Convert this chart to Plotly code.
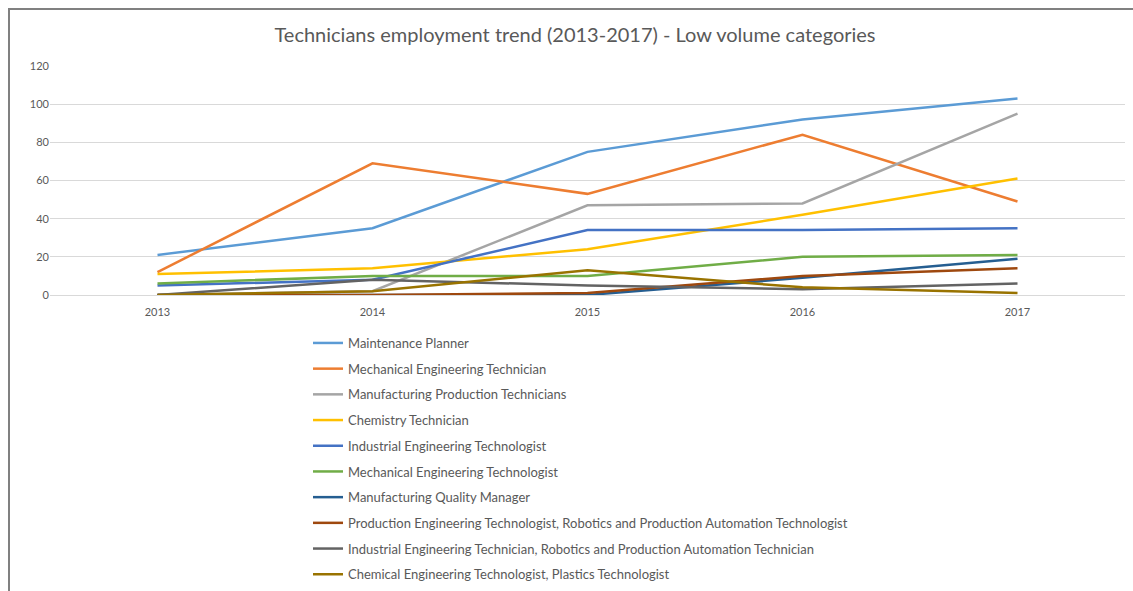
import plotly.graph_objects as go

years = ["2013", "2014", "2015", "2016", "2017"]

series_names = [
    "Maintenance Planner",
    "Mechanical Engineering Technician",
    "Manufacturing Production Technicians",
    "Chemistry Technician",
    "Industrial Engineering Technologist",
    "Mechanical Engineering Technologist",
    "Manufacturing Quality Manager",
    "Production Engineering Technologist, Robotics and Production Automation Technologist",
    "Industrial Engineering Technician, Robotics and Production Automation Technician",
    "Chemical Engineering Technologist, Plastics Technologist",
]

maintenance_planner = [21, 35, 75, 92, 103]
mech_eng_technician = [12, 69, 53, 84, 49]
manuf_production_tech = [0, 2, 47, 48, 95]
chemistry_technician = [11, 14, 24, 42, 61]
industrial_eng_technologist = [5, 8, 34, 34, 35]
mech_eng_technologist = [6, 10, 10, 20, 21]
manuf_quality_manager = [0, 0, 0, 9, 19]
production_eng_technologist = [0, 0, 1, 10, 14]
industrial_eng_technician = [0, 8, 5, 3, 6]
chemical_eng_technologist = [0, 2, 13, 4, 1]

series_values = [
    maintenance_planner, mech_eng_technician, manuf_production_tech,
    chemistry_technician, industrial_eng_technologist, mech_eng_technologist,
    manuf_quality_manager, production_eng_technologist,
    industrial_eng_technician, chemical_eng_technologist,
]

colors = ["#5B9BD5", "#ED7D31", "#A5A5A5", "#FFC000", "#4472C4",
          "#70AD47", "#255E91", "#9E480E", "#636363", "#997300"]

fig = go.Figure()
for i, (name, vals) in enumerate(zip(series_names, series_values)):
    fig.add_trace(go.Scatter(
        x=years, y=vals, name=name, mode="lines",
        line=dict(color=colors[i], width=2.5),
        legendgroup=f"g{i}",
    ))

# plot area in px: x 50..1125, y 66..295
L, R, T, B = 50, 1125, 66, 295
W, H = 1133, 591
def px_x(p):
    return (p - L) / (R - L)
def px_y(p):
    return (B - p) / (B - T)

fig.update_layout(
    width=W, height=H,
    margin=dict(l=L, r=W - R, t=T, b=H - B, autoexpand=False),
    paper_bgcolor="white", plot_bgcolor="white",
    font=dict(family="Lato, 'Open Sans', sans-serif", color="#595959", size=11),
    title=dict(
        text="Technicians employment trend (2013-2017) - Low volume categories",
        x=575 / W, xref="container", xanchor="center",
        y=1 - 35 / H, yanchor="middle",
        font=dict(size=20, color="#595959"),
    ),
    xaxis=dict(
        type="category", range=[-0.5, 4.5],
        showgrid=False, showline=False, zeroline=False,
        ticks="", ticklabelstandoff=9,
        tickfont=dict(size=11, color="#595959"),
    ),
    yaxis=dict(
        range=[0, 120], dtick=20, tick0=0,
        showgrid=True, gridcolor="#D9D9D9", gridwidth=1,
        zeroline=True, zerolinecolor="#D9D9D9", zerolinewidth=1,
        showline=False, ticks="",
        tickfont=dict(size=11, color="#595959"),
    ),
    showlegend=True,
    legend=dict(
        orientation="v",
        x=px_x(308), xanchor="left",
        y=px_y(328), yanchor="top",
        font=dict(size=13, color="#595959"),
        tracegroupgap=5.8,
        bgcolor="rgba(0,0,0,0)",
    ),
    shapes=[
        dict(type="line", xref="paper", yref="paper",
             x0=px_x(9), x1=px_x(9), y0=px_y(H), y1=px_y(9),
             line=dict(color="#808080", width=2)),
        dict(type="line", xref="paper", yref="paper",
             x0=px_x(8), x1=px_x(W), y0=px_y(9), y1=px_y(9),
             line=dict(color="#808080", width=2)),
    ],
)

fig.write_html("out.html")
